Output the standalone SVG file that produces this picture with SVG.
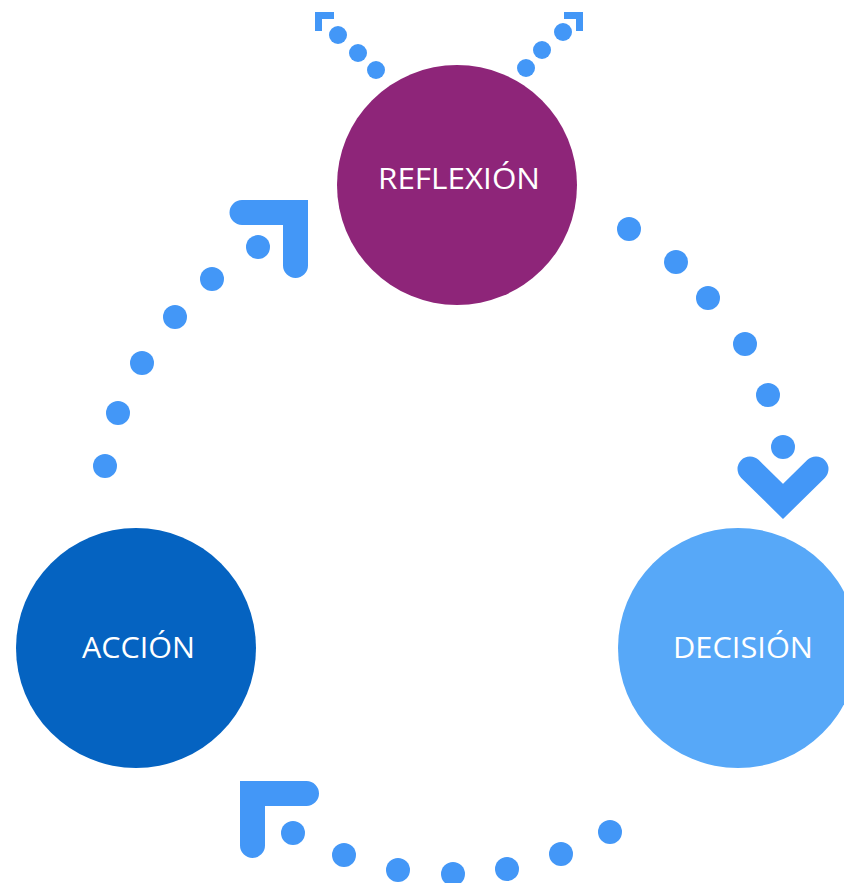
<svg xmlns="http://www.w3.org/2000/svg" width="844" height="883" viewBox="0 0 844 883">
<style>
.dot{fill:#4397F7}
.sdot{fill:#4397F7}
.head{fill:none;stroke:#4397F7;stroke-width:25;stroke-linecap:round;stroke-linejoin:miter}
.shead{fill:none;stroke:#4397F7;stroke-width:7;stroke-linecap:butt;stroke-linejoin:miter}
.lbl{font-family:"Open Sans","Liberation Sans",sans-serif;font-size:29.5px;fill:#ffffff;text-anchor:middle}
</style>
<rect width="844" height="883" fill="#ffffff"/>
<g id="connectors">
  <g id="top-left">
    <path class="shead" d="M334,15.5 L318.5,15.5 L318.5,31"/>
    <circle class="sdot" cx="338" cy="35" r="9"/>
    <circle class="sdot" cx="358" cy="53" r="9"/>
    <circle class="sdot" cx="376" cy="70" r="9"/>
  </g>
  <g id="top-right">
    <path class="shead" d="M564,15.5 L579.5,15.5 L579.5,31"/>
    <circle class="sdot" cx="563" cy="32" r="9"/>
    <circle class="sdot" cx="542" cy="50" r="9"/>
    <circle class="sdot" cx="526" cy="68" r="9"/>
  </g>
  <g id="reflexion-decision">
    <circle class="dot" cx="629" cy="229" r="12"/>
    <circle class="dot" cx="676" cy="262" r="12"/>
    <circle class="dot" cx="708" cy="298" r="12"/>
    <circle class="dot" cx="745" cy="344" r="12"/>
    <circle class="dot" cx="768" cy="395" r="12"/>
    <circle class="dot" cx="783" cy="447" r="12"/>
    <path class="head" d="M750,469 L783,501.5 L816,469"/>
  </g>
  <g id="decision-accion">
    <circle class="dot" cx="610" cy="832" r="12"/>
    <circle class="dot" cx="561" cy="854" r="12"/>
    <circle class="dot" cx="507" cy="869" r="12"/>
    <circle class="dot" cx="453" cy="874" r="12"/>
    <circle class="dot" cx="398" cy="870" r="12"/>
    <circle class="dot" cx="344" cy="855" r="12"/>
    <circle class="dot" cx="293" cy="833" r="12"/>
    <path class="head" d="M306.5,793.5 L252.5,793.5 L252.5,845.5"/>
  </g>
  <g id="accion-reflexion">
    <circle class="dot" cx="105" cy="466" r="12"/>
    <circle class="dot" cx="118" cy="413" r="12"/>
    <circle class="dot" cx="142" cy="363" r="12"/>
    <circle class="dot" cx="175" cy="317" r="12"/>
    <circle class="dot" cx="212" cy="279" r="12"/>
    <circle class="dot" cx="258" cy="247" r="12"/>
    <path class="head" d="M242,212.5 L295.5,212.5 L295.5,265.5"/>
  </g>
</g>
<g id="reflexion">
  <circle cx="457" cy="185" r="120" fill="#8E2579"/>
  <text class="lbl" x="459" y="189" textLength="162" lengthAdjust="spacingAndGlyphs">REFLEXIÓN</text>
</g>
<g id="accion">
  <circle cx="136" cy="648" r="120" fill="#0563C1"/>
  <text class="lbl" x="138.5" y="658" textLength="113" lengthAdjust="spacingAndGlyphs">ACCIÓN</text>
</g>
<g id="decision">
  <circle cx="738" cy="648" r="120" fill="#57A8F8"/>
  <text class="lbl" x="743" y="658" textLength="140" lengthAdjust="spacingAndGlyphs">DECISIÓN</text>
</g>
</svg>
